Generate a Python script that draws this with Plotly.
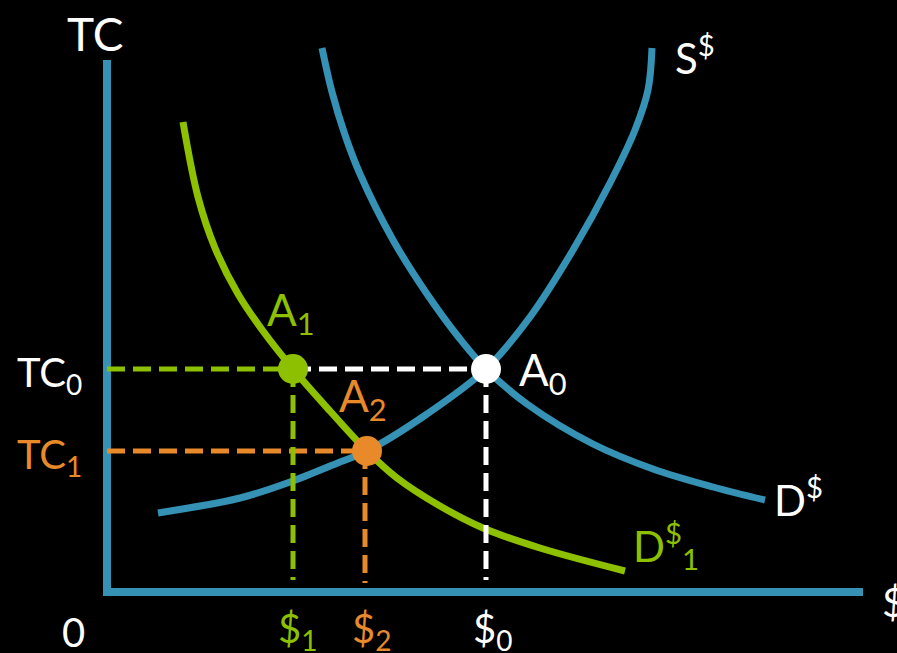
import plotly.graph_objects as go

# Values (chart units: quantity on x, TC on y; origin at the axes corner)
s_x = [51, 133, 183, 233, 260, 320, 379, 423, 466, 503, 528, 541, 545]
s_y = [79, 94, 110, 130, 141, 178, 223, 275, 342, 409, 462, 502, 544]

d_x = [215, 225, 238, 253, 286, 320, 353, 379, 420, 486, 546, 606, 658]
d_y = [544, 500, 457, 418, 352, 298, 253, 223, 188, 148, 123, 105, 92]

d1_x = [76, 91, 108, 131, 156, 186, 223, 260, 290, 333, 376, 433, 518]
d1_y = [470, 395, 344, 298, 261, 223, 181, 141, 114, 86, 64, 44, 21]

# equilibria
q0, tc0 = 379, 223   # A0
q1 = 186             # A1 (at TC0)
q2, tc1 = 260, 141   # A2

x_axis_end = 756
y_axis_end = 532

BLUE = "#3592B5"
GREEN = "#8DC000"
ORANGE = "#E88A2A"
WHITE = "#FFFFFF"
FONT = "Lato"

fig = go.Figure()

def line(x, y, color, width, dash=None, shape="linear"):
    fig.add_trace(go.Scatter(x=x, y=y, mode="lines",
                             line=dict(color=color, width=width, dash=dash, shape=shape),
                             hoverinfo="skip", showlegend=False))

# axes
line([0, 0], [-4, y_axis_end], BLUE, 8)
line([-4, x_axis_end], [0, 0], BLUE, 8)

# curves
line(s_x, s_y, BLUE, 7, shape="spline")
line(d_x, d_y, BLUE, 7, shape="spline")
line(d1_x, d1_y, GREEN, 7, shape="spline")

# dashed guide lines
DASH = "18px,8px"
line([0, q1], [tc0, tc0], GREEN, 5, DASH)
line([q1, q0], [tc0, tc0], WHITE, 5, DASH)
line([0, q2], [tc1, tc1], ORANGE, 5, DASH)
line([q1, q1], [tc0, 12], GREEN, 5, DASH)
line([q2 - 2, q2 - 2], [tc1, 9], ORANGE, 5, DASH)
line([q0, q0], [tc0, 12], WHITE, 5, DASH)

# points
fig.add_trace(go.Scatter(x=[q1, q2, q0], y=[tc0, tc1, tc0], mode="markers",
                         marker=dict(size=30, color=[GREEN, ORANGE, WHITE], line=dict(width=0)),
                         hoverinfo="skip", showlegend=False))

def label(x, y, text, color, size, xanchor="center", yanchor="middle"):
    fig.add_annotation(x=x, y=y, xref="x", yref="y", text=text, showarrow=False,
                       font=dict(family=FONT, size=size, color=color),
                       xanchor=xanchor, yanchor=yanchor)

label(-12, 559, "TC", WHITE, 46)
label(-92, 218, "TC<sub>0</sub>", WHITE, 40, xanchor="left")
label(-92, 136, "TC<sub>1</sub>", ORANGE, 40, xanchor="left")
label(-34, -40, "0", WHITE, 40)
label(q1 + 4, -38, "$<sub>1</sub>", GREEN, 40)
label(q2 + 4, -38, "$<sub>2</sub>", ORANGE, 40)
label(q0 + 6, -38, "$<sub>0</sub>", WHITE, 40)
label(773, -10, "$", WHITE, 40, xanchor="left")
label(566, 537, "S<sup>$</sup>", WHITE, 42, xanchor="left")
label(665, 95, "D<sup>$</sup>", WHITE, 42, xanchor="left")
label(524, 47, "D<sup>$</sup><sub>1</sub>", GREEN, 42, xanchor="left")
label(158, 280, "A<sub>1</sub>", GREEN, 44, xanchor="left")
label(230, 194, "A<sub>2</sub>", ORANGE, 44, xanchor="left")
label(410, 220, "A<sub>0</sub>", WHITE, 44, xanchor="left")

fig.update_layout(
    width=897, height=653,
    margin=dict(l=0, r=0, t=0, b=0),
    paper_bgcolor="black", plot_bgcolor="black",
    xaxis=dict(range=[-107, 790], visible=False, fixedrange=True),
    yaxis=dict(range=[-61, 592], visible=False, fixedrange=True),
    showlegend=False,
)

fig.write_html("out.html", config={"displayModeBar": False},
               post_script="document.body.style.margin='0';document.body.style.background='black';")
